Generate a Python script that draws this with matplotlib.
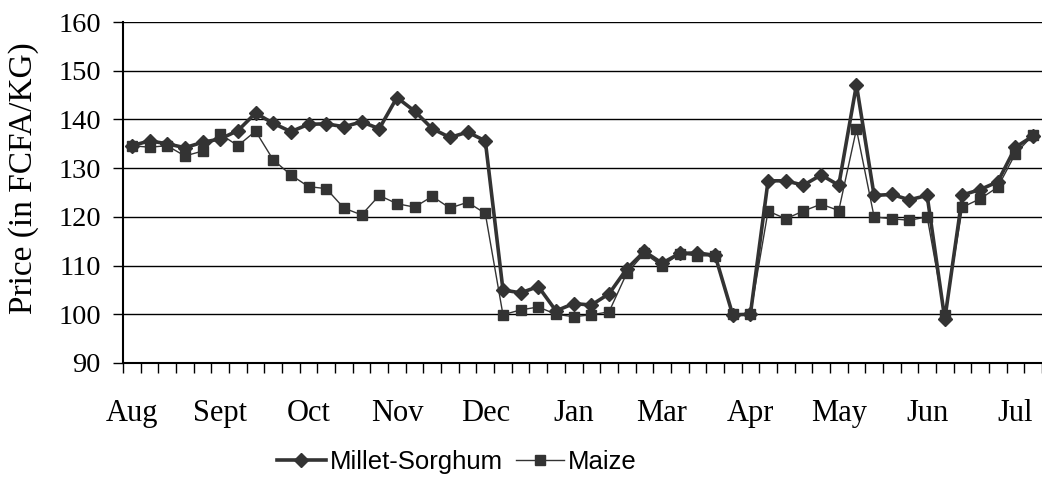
import matplotlib
matplotlib.use("Agg")
import matplotlib.pyplot as plt
import numpy as np

# ---- data ----
month_labels = ["Aug", "Sept", "Oct", "Nov", "Dec", "Jan", "Mar", "Apr", "May", "Jun", "Jul"]
label_every = 5

millet_sorghum = [134.6, 135.6, 135.0, 134.2, 135.3, 136.0, 137.7, 141.3, 139.2, 137.5,
                  139.0, 139.1, 138.5, 139.5, 138.1, 144.5, 141.7, 138.1, 136.3, 137.4,
                  135.6, 105.0, 104.4, 105.7, 100.7, 102.2, 101.9, 104.2, 109.3, 112.9,
                  110.5, 112.5, 112.6, 112.1, 99.9, 100.0, 127.4, 127.4, 126.5, 128.6,
                  126.5, 147.1, 124.4, 124.6, 123.5, 124.4, 99.0, 124.5, 125.6, 127.2,
                  134.3, 136.6]
maize = [134.6, 134.3, 134.6, 132.5, 133.5, 137.0, 134.6, 137.6, 131.7, 128.6,
         126.2, 125.8, 121.8, 120.4, 124.4, 122.7, 122.0, 124.2, 121.8, 123.0,
         120.7, 99.9, 100.9, 101.5, 100.0, 99.5, 99.9, 100.5, 108.4, 112.5,
         109.9, 112.4, 112.0, 112.0, 100.0, 100.0, 121.2, 119.6, 121.2, 122.6,
         121.3, 138.0, 120.0, 119.6, 119.3, 120.0, 99.9, 122.0, 123.7, 126.1,
         133.0, 136.8]

y_ticks = [90, 100, 110, 120, 130, 140, 150, 160]

W, H = 1042, 478
fig = plt.figure(figsize=(W / 100, H / 100), dpi=100)
ax = fig.add_axes([123 / W, 1 - 363 / H, (W - 123) / W, (363 - 22) / H])

n = len(millet_sorghum)
x = np.arange(n)
col = "#333333"

ax.plot(x, millet_sorghum, color=col, lw=2.6, marker="D", markersize=7.5,
        markeredgecolor=col, markerfacecolor=col, label="Millet-Sorghum", zorder=4)
ax.plot(x, maize, color=col, lw=1.0, marker="s", markersize=6.5,
        markeredgecolor=col, markerfacecolor=col, label="Maize", zorder=3)

ax.set_xlim(-0.5, n - 0.5)
ax.set_ylim(90, 160)
ax.set_yticks(y_ticks)
ax.yaxis.grid(True, color="black", lw=1.0)
ax.set_axisbelow(True)

serif = ["Liberation Serif", "DejaVu Serif"]
ax.set_yticklabels([str(v) for v in y_ticks], fontfamily=serif, fontsize=20.5)
ax.tick_params(axis="y", direction="out", length=7, width=1, pad=9, color="black")

# x: minor ticks at category boundaries, month labels every 5 categories
ax.set_xticks(np.arange(-0.5, n, 1.0), minor=True)
major_pos = [i * label_every for i in range(len(month_labels))]
ax.set_xticks(major_pos)
ax.set_xticklabels(month_labels, fontfamily=serif, fontsize=22)
ax.tick_params(axis="x", which="major", length=0, pad=26)
ax.tick_params(axis="x", which="minor", direction="out", length=7, width=1, color="black")

for s in ["top", "right"]:
    ax.spines[s].set_visible(False)
ax.spines["left"].set_linewidth(1.5)
ax.spines["bottom"].set_linewidth(1.5)

fig.text(24 / W, 1 - 178 / H, "Price (in FCFA/KG)", rotation=90, ha="center", va="center",
         fontfamily=serif, fontsize=24)

leg = fig.legend(loc="center", bbox_to_anchor=(457 / W, 1 - 462 / H), ncol=2,
                 frameon=False, prop={"family": "Liberation Sans", "size": 18.5},
                 handlelength=1.9, handletextpad=0.15, columnspacing=0.5)

fig.savefig("out.png", dpi=100)
